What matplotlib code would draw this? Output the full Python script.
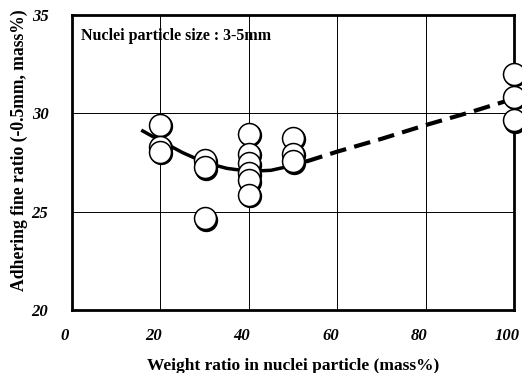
"""
Adhering fine ratio vs weight ratio in nuclei particle.
"""
import matplotlib
matplotlib.use('Agg')
import matplotlib.pyplot as plt
import matplotlib.transforms as mtransforms

# Dados
peso_x = [20, 20, 20, 30, 30, 30, 40, 40, 40, 40, 40, 40, 50, 50, 50, 100, 100, 100]
finos_y = [29.4, 28.3, 28.05, 27.6, 27.25, 24.65, 28.95, 27.95, 27.45, 26.95, 26.6, 25.85,
           28.75, 27.95, 27.55, 32.0, 30.85, 29.65]

curva_solida_x = [16, 20, 25, 30, 35, 40, 45, 50, 53]
curva_solida_y = [29.1, 28.6, 28.0, 27.5, 27.2, 27.05, 27.1, 27.35, 27.55]
curva_tracejada_x = [53, 60, 70, 80, 90, 100]
curva_tracejada_y = [27.55, 28.05, 28.7, 29.4, 30.05, 30.75]

x_ticks = [0, 20, 40, 60, 80, 100]
y_ticks = [20, 25, 30, 35]

plt.rcParams['font.family'] = ['Liberation Serif', 'DejaVu Serif']

fig = plt.figure(figsize=(5.22, 3.73), dpi=100)
ax = fig.add_axes([0.138, 0.169, 0.847, 0.791])

ax.set_xlim(0, 100)
ax.set_ylim(20, 35)
ax.set_xticks(x_ticks)
ax.set_yticks(y_ticks)
ax.set_xticklabels([str(v) for v in x_ticks], fontsize=12, fontweight='bold', fontstyle='italic')
ax.set_yticklabels([str(v) for v in y_ticks], fontsize=12, fontweight='bold', fontstyle='italic')
ax.grid(True, color='black', linewidth=0.7)
ax.set_axisbelow(True)
for sp in ax.spines.values():
    sp.set_linewidth(2)

ax.tick_params(length=0, pad=17)
ax.tick_params(axis='x', pad=13)
desloc = mtransforms.ScaledTranslation(-7 / 100, 0, fig.dpi_scale_trans)
for lab in ax.get_xticklabels():
    lab.set_transform(lab.get_transform() + desloc)

# Curva de tendência
ax.plot(curva_solida_x, curva_solida_y, color='black', linewidth=2.5, zorder=3)
ax.plot(curva_tracejada_x, curva_tracejada_y, color='black', linewidth=3,
        linestyle=(0, (4, 2)), zorder=3)

# Pontos com sombra
sombra = mtransforms.offset_copy(ax.transData, fig=fig, x=0.6, y=-1.0, units='points')
ax.plot(peso_x, finos_y, 'o', color='black', markersize=15.8, transform=sombra,
        clip_on=False, zorder=4)
ax.plot(peso_x, finos_y, 'o', markerfacecolor='white', markeredgecolor='black',
        markeredgewidth=1.1, markersize=15.8, clip_on=False, zorder=5)

ax.text(0.02, 0.93, 'Nuclei particle size : 3-5mm', transform=ax.transAxes,
        fontsize=11.5, fontweight='bold', va='center', ha='left')

ax.set_xlabel('Weight ratio in nuclei particle (mass%)', fontsize=12.5,
              fontweight='bold', labelpad=10)
ax.set_ylabel('Adhering fine ratio (-0.5mm, mass%)', fontsize=12.7,
              fontweight='bold')
ax.yaxis.set_label_coords(-0.10, 0.542)

fig.savefig('out.png', dpi=100)
plt.close(fig)
